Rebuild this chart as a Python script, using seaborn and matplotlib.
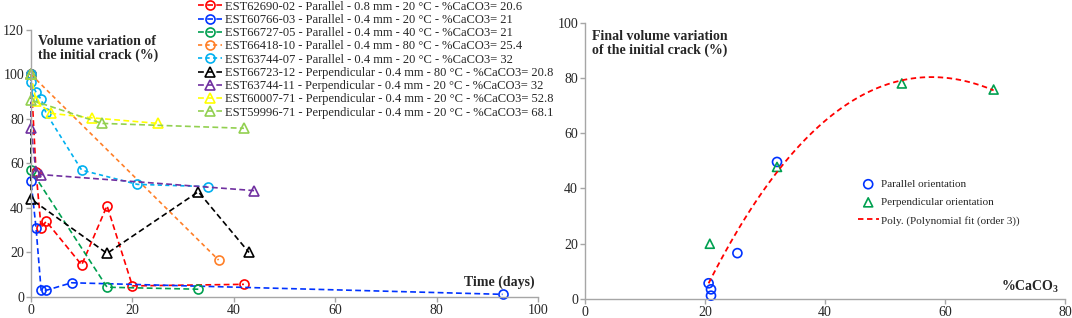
import matplotlib
matplotlib.use('Agg')
import matplotlib.pyplot as plt
import seaborn as sns

# Left panel: volume variation of the initial crack over time
labels = [
    'EST62690-02 - Parallel - 0.8 mm - 20 °C - %CaCO3= 20.6',
    'EST60766-03 - Parallel - 0.4 mm - 20 °C - %CaCO3= 21',
    'EST66727-05 - Parallel - 0.4 mm - 40 °C - %CaCO3= 21',
    'EST66418-10 - Parallel - 0.4 mm - 80 °C - %CaCO3= 25.4',
    'EST63744-07 - Parallel - 0.4 mm - 20 °C - %CaCO3= 32',
    'EST66723-12 - Perpendicular - 0.4 mm - 80 °C - %CaCO3= 20.8',
    'EST63744-11 - Perpendicular - 0.4 mm - 20 °C - %CaCO3= 32',
    'EST60007-71 - Perpendicular - 0.4 mm - 20 °C - %CaCO3= 52.8',
    'EST59996-71 - Perpendicular - 0.4 mm - 20 °C - %CaCO3= 68.1',
]
red_t = [0, 1, 2, 3, 10, 15, 20, 42]
red_v = [100, 56, 31, 34, 14.4, 41, 5, 5.7]
blue_t = [0, 0, 1, 2, 3, 8, 93]
blue_v = [100, 52, 31, 3, 3, 6.4, 1.2]
green_t = [0, 0, 15, 33]
green_v = [100, 57, 4.4, 3.5]
orange_t = [0, 37]
orange_v = [100, 16.6]
cyan_t = [0, 0, 1, 2, 3, 10, 21, 35]
cyan_v = [100, 96.4, 92, 88.8, 82.5, 57, 50.6, 49.6]
black_t = [0, 0, 15, 33, 43]
black_v = [100, 44, 19.6, 47.3, 20]
purple_t = [0, 0, 1, 2, 44]
purple_v = [100, 76, 56, 55, 47.8]
yellow_t = [0, 1, 4, 12, 25]
yellow_v = [100, 88, 82.5, 80.5, 78]
lgreen_t = [0, 0, 14, 42]
lgreen_v = [100, 88.5, 78, 75.8]

times = [red_t, blue_t, green_t, orange_t, cyan_t, black_t, purple_t, yellow_t, lgreen_t]
values = [red_v, blue_v, green_v, orange_v, cyan_v, black_v, purple_v, yellow_v, lgreen_v]
colors = ['#FF0000', '#0033FF', '#00A050', '#FF7F27', '#00B0F0',
          '#000000', '#7030A0', '#FFFF00', '#92D050']
markers = ['o'] * 5 + ['^'] * 4

# Right panel: final volume variation vs %CaCO3
par_caco3 = [20.6, 21, 21, 25.4, 32]
par_final = [5.7, 1.2, 3.5, 16.6, 49.6]
perp_caco3 = [20.8, 32, 52.8, 68.1]
perp_final = [20, 47.8, 78, 75.8]

sns.set_style('white')
plt.rcParams['font.family'] = ['Liberation Serif', 'DejaVu Serif']
plt.rcParams['mathtext.fontset'] = 'custom'
plt.rcParams['mathtext.rm'] = 'Liberation Serif'
plt.rcParams['mathtext.bf'] = 'Liberation Serif:bold'

fig = plt.figure(figsize=(10.72, 3.18), dpi=100)
ax1 = fig.add_axes([0.0289, 0.066, 0.473, 0.84])
ax2 = fig.add_axes([0.5457, 0.0597, 0.4478, 0.869])

axis_grey = '#A6A6A6'
for ax in (ax1, ax2):
    sns.despine(ax=ax)
    for s in ('left', 'bottom'):
        ax.spines[s].set_color(axis_grey)
        ax.spines[s].set_linewidth(1.0)
    ax.tick_params(direction='out', length=3.5, width=1, color=axis_grey,
                   labelsize=10, pad=1.5, left=True, bottom=True)

for t, v, c, m, lab in zip(times, values, colors, markers, labels):
    dash = (2.5, 2) if c in ('#FF7F27', '#00B0F0') else (3.5, 2)
    sns.lineplot(x=t, y=v, ax=ax1, color=c, marker=m, mfc='none', mec=c,
                 mew=1.2, ms=6.5, lw=1.2, linestyle=(0, dash), label=lab,
                 estimator=None, sort=False, legend=False, clip_on=False)

ax1.set_xlim(0, 100)
ax1.set_ylim(0, 120)
ax1.set_xticks(range(0, 101, 20))
ax1.set_yticks(range(0, 121, 20))
ax1.set_xlabel('')
ax1.set_ylabel('')
ax1.text(0.014, 0.981, 'Volume variation of\nthe initial crack (%)', transform=ax1.transAxes,
         ha='left', va='top', fontsize=10, fontweight='bold', linespacing=1.1)
ax1.text(0.994, 0.057, 'Time (days)', transform=ax1.transAxes,
         ha='right', va='center', fontsize=10, fontweight='bold')

h, l = ax1.get_legend_handles_labels()
fig.legend(h, l, loc='upper left', bbox_to_anchor=(0.185, 0.998), frameon=False,
           fontsize=9, handlelength=1.9, handletextpad=0.2, labelspacing=0.1,
           borderpad=0, borderaxespad=0)

sns.scatterplot(x=par_caco3, y=par_final, ax=ax2, marker='o', s=42,
                facecolors='none', edgecolor='#0033FF', linewidth=1.2,
                label='Parallel orientation', clip_on=False)
sns.scatterplot(x=perp_caco3, y=perp_final, ax=ax2, marker='^', s=42,
                facecolors='none', edgecolor='#00A050', linewidth=1.2,
                label='Perpendicular orientation', clip_on=False)
sns.regplot(x=par_caco3 + perp_caco3, y=par_final + perp_final, ax=ax2, order=3,
            ci=None, scatter=False, truncate=True, label='Poly. (Polynomial fit (order 3))',
            line_kws=dict(color='#FF0000', lw=1.3, linestyle=(0, (3, 2))))

ax2.set_xlim(0, 80)
ax2.set_ylim(0, 100)
ax2.set_xticks(range(0, 81, 20))
ax2.set_yticks(range(0, 101, 20))
ax2.set_xlabel('')
ax2.set_ylabel('')
ax2.text(0.014, 0.974, 'Final volume variation\nof the initial crack (%)', transform=ax2.transAxes,
         ha='left', va='top', fontsize=10, fontweight='bold', linespacing=1.1)
ax2.text(0.9875, 0.042, r'$\mathbf{\%CaCO_3}$', transform=ax2.transAxes,
         ha='right', va='center', fontsize=10)
ax2.legend(loc='upper left', bbox_to_anchor=(0.568, 0.433), frameon=False,
           fontsize=8, handlelength=1.9, handletextpad=0.2, labelspacing=0.75,
           borderpad=0, borderaxespad=0)

fig.savefig('out.png', dpi=100)
